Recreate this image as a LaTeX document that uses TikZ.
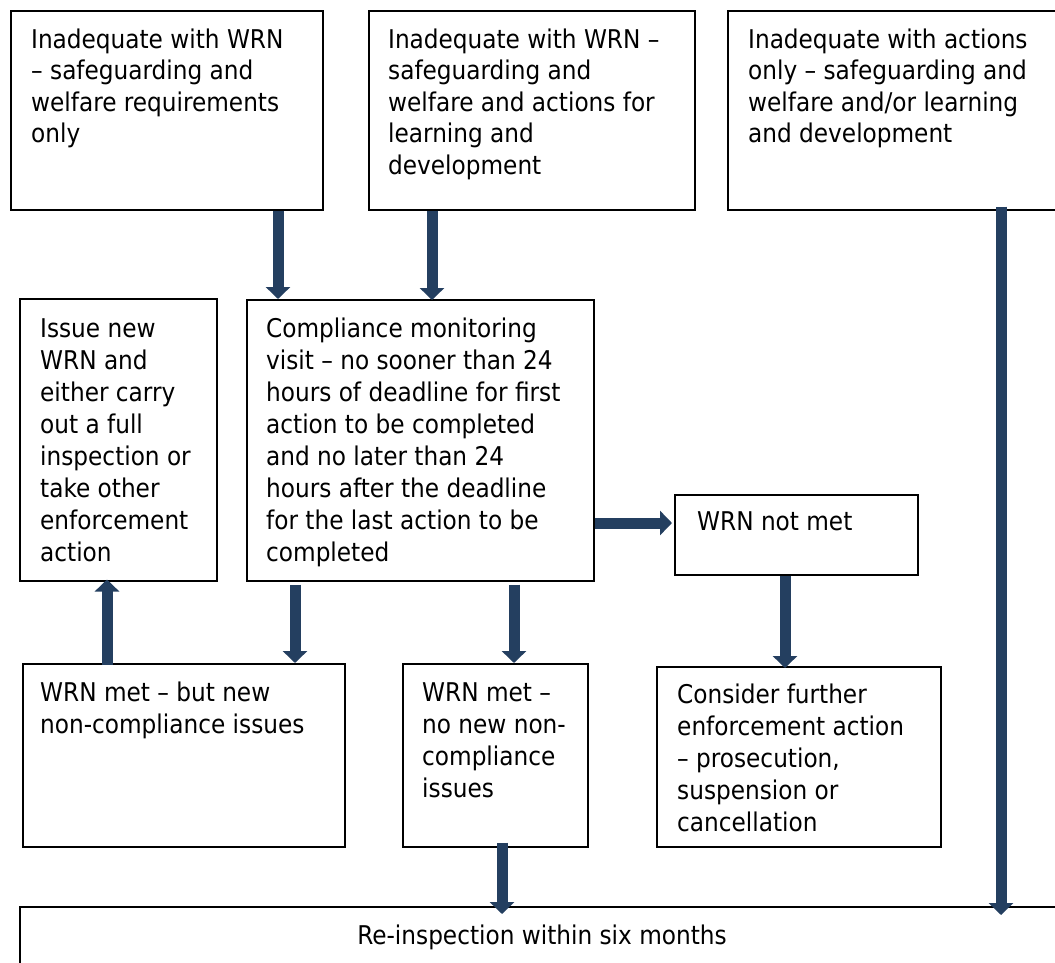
\documentclass[tikz,border=0pt]{standalone}
\usepackage{fontspec}
\setmainfont{DejaVu Sans Condensed}
\usetikzlibrary{arrows.meta,calc}
\definecolor{navy}{HTML}{243F60}
\newcommand\fl{\rule{0pt}{20pt}}
\tikzset{
  box/.style={draw=black, line width=1.5pt, rectangle, inner sep=0pt, anchor=north west},
  txt/.style={inner sep=0pt, anchor=north west, align=left, font=\fontsize{25.8}{32}\selectfont},
  toptxt/.style={txt, font=\fontsize{25.8}{31.5}\selectfont},
  arr/.style={navy, line width=11pt, -{Triangle[length=12pt 0 0, width=24pt 0 0]}}
}
\begin{document}
\begin{tikzpicture}[x=1pt,y=-1pt]
\useasboundingbox (0,0) rectangle (1055,962);
% boxes
\node[box, minimum width=312pt, minimum height=199pt] (A) at (10,10) {};
\node[box, minimum width=326pt, minimum height=199pt] (B) at (368,10) {};
\node[box, minimum width=343pt, minimum height=199pt] (C) at (727,10) {};
\node[box, minimum width=197pt, minimum height=282pt] (D) at (19,298) {};
\node[box, minimum width=347pt, minimum height=281pt] (E) at (246,299) {};
\node[box, minimum width=243pt, minimum height=80pt] (F) at (674,494) {};
\node[box, minimum width=322pt, minimum height=183pt] (G) at (22,663) {};
\node[box, minimum width=185pt, minimum height=183pt] (H) at (402,663) {};
\node[box, minimum width=284pt, minimum height=180pt] (I) at (656,666) {};
\node[box, minimum width=1051pt, minimum height=80pt] (J) at (19,906) {};
% texts
\node[toptxt] (At) at (31,28) {\fl Inadequate with WRN\\– safeguarding and\\welfare requirements\\only};
\node[toptxt] (Bt) at (388,28) {\fl Inadequate with WRN –\\safeguarding and\\welfare and actions for\\learning and\\development};
\node[toptxt] (Ct) at (748,28) {\fl Inadequate with actions\\only – safeguarding and\\welfare and/or learning\\and development};
\node[txt] (Dt) at (40,317) {\fl Issue new\\WRN and\\either carry\\out a full\\inspection or\\take other\\enforcement\\action};
\node[txt] (Et) at (266,317) {\fl Compliance monitoring\\visit – no sooner than 24\\hours of deadline for first\\action to be completed\\and no later than 24\\hours after the deadline\\for the last action to be\\completed};
\node[txt] (Ft) at (697,510) {\fl WRN not met};
\node[txt] (Gt) at (40,681) {\fl WRN met – but new\\non-compliance issues};
\node[txt] (Ht) at (422,681) {\fl WRN met –\\no new non-\\compliance\\issues};
\node[txt] (It) at (677,683) {\fl Consider further\\enforcement action\\– prosecution,\\suspension or\\cancellation};
\node[txt, anchor=north] (Jt) at (542,924) {\fl Re-inspection within six months};
% arrows
\draw[arr] (A.south -| 278,0) -- (E.north -| 278,0);
\draw[arr] (B.south -| 432,0) -- ([yshift=-1pt]E.north -| 432,0);
\draw[arr] ([yshift=4pt]C.south -| 1001,0) -- ([yshift=-9pt]J.north -| 1001,0);
\draw[arr] (E.east |- 0,523) -- ([xshift=-2pt]F.west |- 0,523);
\draw[arr] (F.south -| 785,0) -- ([yshift=-2pt]I.north -| 785,0);
\draw[arr] ([yshift=-3pt]E.south -| 295,0) -- (G.north -| 295,0);
\draw[arr] ([yshift=-3pt]E.south -| 514,0) -- (H.north -| 514,0);
\draw[arr] ([yshift=-2pt]G.north -| 107,0) -- ([yshift=2pt]D.south -| 107,0);
\draw[arr] ([yshift=5pt]H.south -| 502,0) -- ([yshift=-8pt]J.north -| 502,0);
\end{tikzpicture}
\end{document}
